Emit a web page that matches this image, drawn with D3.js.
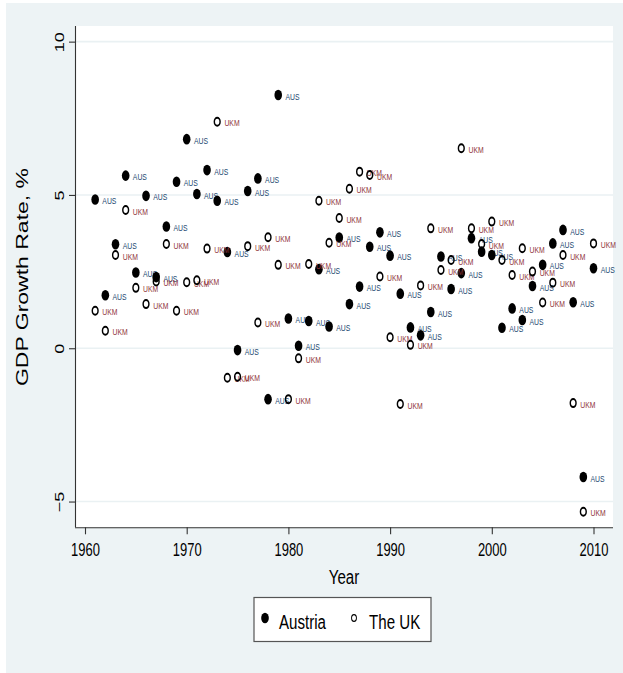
<!DOCTYPE html>
<html>
<head>
<meta charset="utf-8">
<script src="https://cdn.jsdelivr.net/npm/d3@7"></script>
<style>
html,body{margin:0;padding:0;background:#fff;}
svg{display:block;}
text{font-family:"Liberation Sans",Arial,Helvetica,sans-serif;}
</style>
</head>
<body>
<svg id="chart" width="623" height="673"></svg>
<script>
// ---- data ----
const years = [1961,1962,1963,1964,1965,1966,1967,1968,1969,1970,
               1971,1972,1973,1974,1975,1976,1977,1978,1979,1980,
               1981,1982,1983,1984,1985,1986,1987,1988,1989,1990,
               1991,1992,1993,1994,1995,1996,1997,1998,1999,2000,
               2001,2002,2003,2004,2005,2006,2007,2008,2009,2010];
const austria = [4.85,1.73,3.39,5.63,2.47,4.97,2.32,3.97,5.43,6.82,
                 5.03,5.81,4.81,3.14,-0.06,5.13,5.54,-1.66,8.26,0.97,
                 0.08,0.89,2.58,0.71,3.61,1.44,2.01,3.31,3.78,3.02,
                 1.78,0.68,0.42,1.18,2.99,1.93,2.45,3.59,3.15,3.04,
                 0.67,1.30,0.92,2.03,2.72,3.42,3.86,1.50,-4.20,2.61];
const uk = [1.22,0.57,3.04,4.51,1.97,1.44,2.18,3.40,1.22,2.15,
            2.22,3.25,7.39,-0.96,-0.93,3.33,0.84,3.62,2.72,-1.66,
            -0.33,2.75,4.81,3.44,4.25,5.20,5.76,5.65,2.34,0.36,
            -1.82,0.11,2.05,3.91,2.55,2.88,6.52,3.91,3.40,4.13,
            2.88,2.39,3.26,2.50,1.49,2.14,3.04,-1.79,-5.33,3.42];
const seriesNames = ["Austria","The UK"];
const seriesCodes = ["AUS","UKM"];
const xTicks = [1960,1970,1980,1990,2000,2010];
const yTicks = [-5,0,5,10];
const xTitle = "Year";
const yTitle = "GDP Growth Rate, %";

// ---- layout ----
const SX = 0.72; // horizontal squeeze of the original picture
const svg = d3.select("#chart");
const plot = {left:75, right:613, top:26, bottom:527.3};

svg.append("rect").attr("x",6).attr("y",3).attr("width",617).attr("height",670).attr("fill","#edf3f5");
svg.append("rect").attr("x",plot.left).attr("y",plot.top)
   .attr("width",plot.right-plot.left).attr("height",plot.bottom-plot.top).attr("fill","#ffffff");

const x = d3.scaleLinear().domain([1959.017, 2011.917]).range([plot.left, plot.right]);
const y = d3.scaleLinear().domain([-5.84, 10.51]).range([plot.bottom, plot.top]);

// gridlines
svg.append("g").selectAll("line").data(yTicks).join("line")
   .attr("x1",plot.left).attr("x2",plot.right)
   .attr("y1",d=>y(d)).attr("y2",d=>y(d))
   .attr("stroke","#eaf1f3").attr("stroke-width",1.6);

// y axis
const yAxis = svg.append("g").attr("transform",`translate(${plot.left},0)`)
   .call(d3.axisLeft(y).tickValues(yTicks).tickSize(6).tickSizeOuter(0).tickFormat(d3.format("d")));
yAxis.select(".domain").attr("stroke","#333").attr("stroke-width",1.1)
   .attr("d",`M0.5,${plot.top}V${plot.bottom}`);
yAxis.selectAll(".tick line").attr("stroke","#333").attr("stroke-width",1.1);
yAxis.selectAll(".tick text")
   .attr("x",null).attr("dy",null)
   .attr("text-anchor","middle")
   .attr("transform",`translate(-11,0) scale(${SX},1) rotate(-90)`)
   .attr("y",0)
   .attr("font-size",18).attr("fill","#000")
   .attr("font-family","Liberation Sans, Arial, sans-serif");

// x axis
const xAxis = svg.append("g").attr("transform",`translate(0,${plot.bottom})`)
   .call(d3.axisBottom(x).tickValues(xTicks).tickSize(7).tickSizeOuter(0).tickFormat(d3.format("d")));
xAxis.select(".domain").attr("stroke","#333").attr("stroke-width",1.1)
   .attr("d",`M${plot.left},0.5H${plot.right}`);
xAxis.selectAll(".tick line").attr("stroke","#333").attr("stroke-width",1.1);
xAxis.selectAll(".tick text")
   .attr("y",null).attr("dy",null)
   .attr("transform",`translate(0,29) scale(${SX},1)`)
   .attr("font-size",18).attr("fill","#000")
   .attr("font-family","Liberation Sans, Arial, sans-serif");

// axis titles
svg.append("text").attr("transform",`translate(344,584) scale(${SX},1)`)
   .attr("text-anchor","middle").attr("font-size",21).attr("fill","#000").text(xTitle);
svg.append("text").attr("transform",`translate(28,277) scale(${SX},1) rotate(-90)`)
   .attr("text-anchor","middle").attr("font-size",23).attr("fill","#000").text(yTitle);

// points
const labelColors = ["#1a476f","#90353b"];
const allSeries = [austria, uk];
allSeries.forEach((vals,si)=>{
  const g = svg.append("g");
  const pts = g.selectAll("g").data(years.map((yr,i)=>({yr, v:vals[i]}))).join("g")
     .attr("transform",d=>`translate(${x(d.yr)},${y(d.v)}) scale(${SX},1)`);
  if(si===0){
    pts.append("circle").attr("r",5.3).attr("fill","#000");
  } else {
    pts.append("circle").attr("r",4.0).attr("fill","none").attr("stroke","#000").attr("stroke-width",2);
  }
  pts.append("text").attr("x",10).attr("y",4.6).attr("font-size",9.5)
     .attr("fill",labelColors[si]).text(seriesCodes[si]);
});

// legend
const lg = svg.append("g");
lg.append("rect").attr("x",254).attr("y",597.5).attr("width",177).attr("height",44)
   .attr("fill","#fff").attr("stroke","#555").attr("stroke-width",1.2);
const legItems = [{cx:265, tx:279},{cx:354, tx:369}];
legItems.forEach((it,i)=>{
  const m = lg.append("g").attr("transform",`translate(${it.cx},618) scale(${SX},1)`);
  if(i===0) m.append("circle").attr("r",5.3).attr("fill","#000");
  else m.append("circle").attr("r",3.4).attr("fill","none").attr("stroke","#000").attr("stroke-width",1.3);
  lg.append("text").attr("transform",`translate(${it.tx},629) scale(${SX},1)`)
    .attr("font-size",21).attr("fill","#000").text(seriesNames[i]);
});
</script>
</body>
</html>
